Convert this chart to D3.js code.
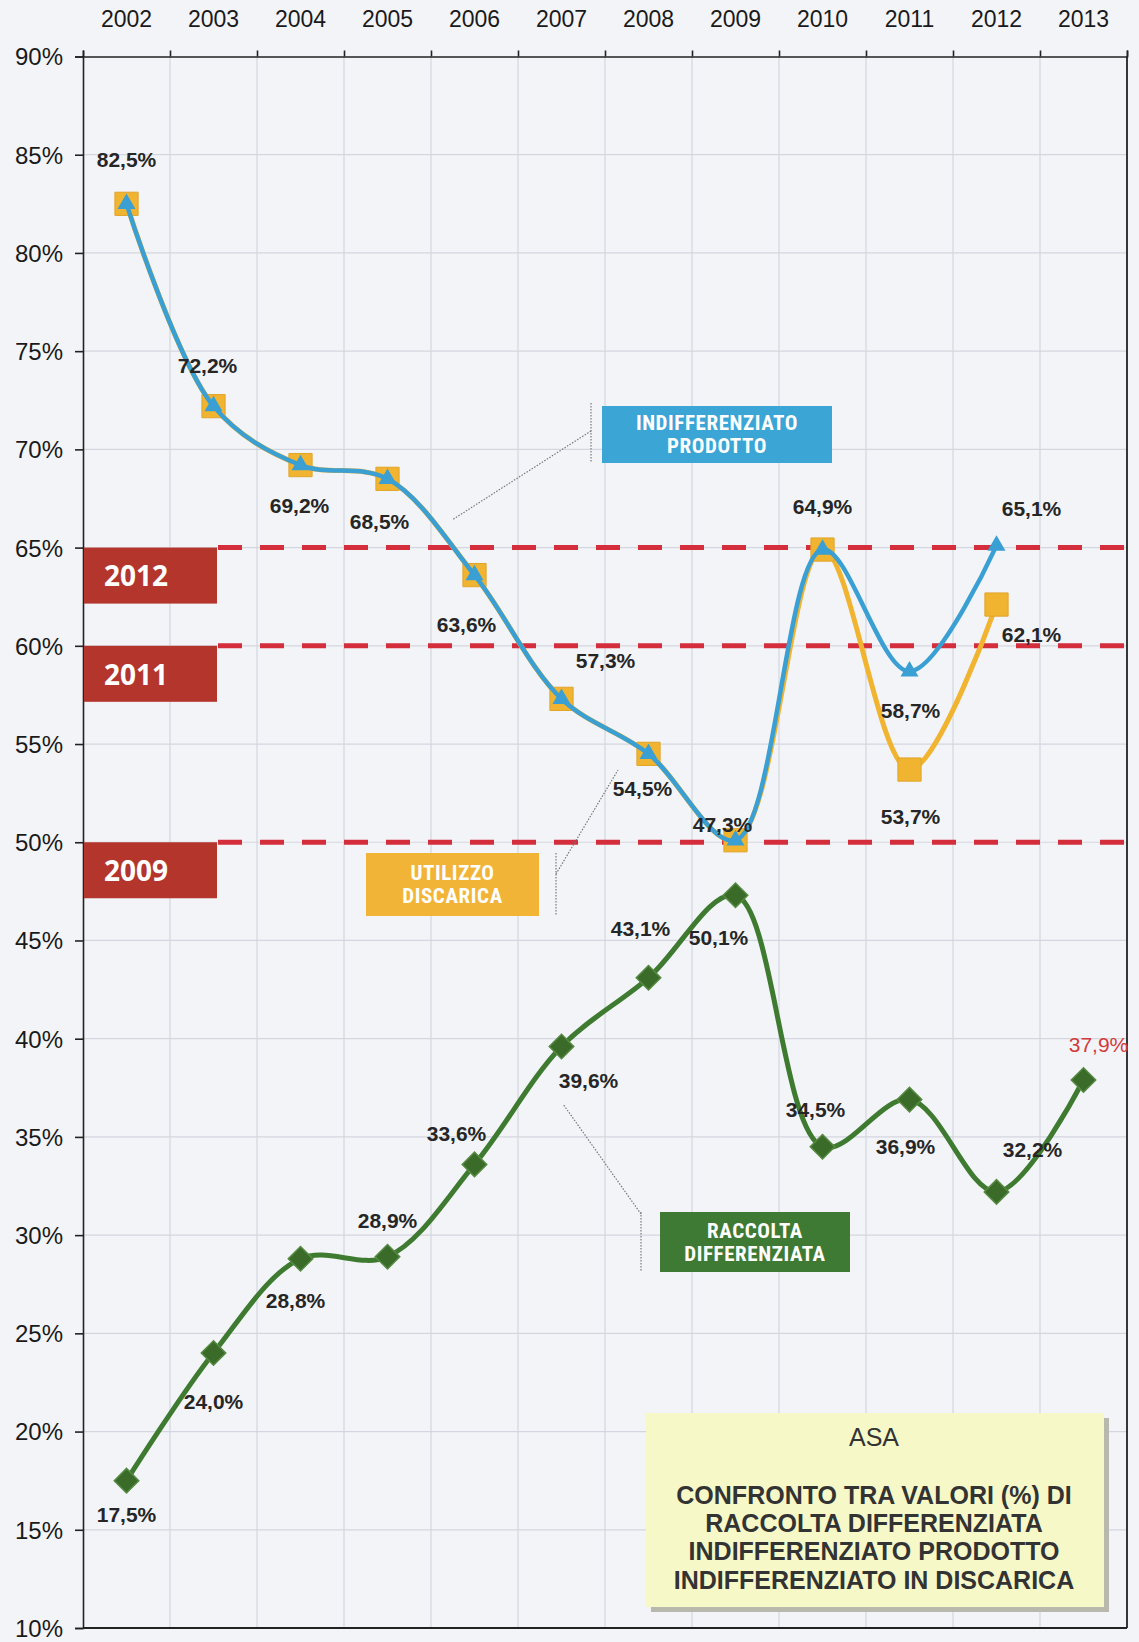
<!DOCTYPE html>
<html lang="it">
<head>
  <meta charset="UTF-8">
  <title>ASA - confronto raccolta differenziata</title>
  <script src="https://d3js.org/d3.v7.min.js"></script>
  <style>
    body { margin: 0; background: #f3f4f8; }
    text { font-family: "Liberation Sans", Arial, sans-serif; }
    .tick text { fill: #1a1a1a; }
    .lbl { font-size: 21px; font-weight: bold; fill: #262626; }
    .tag { font-family: "Roboto Condensed", "DejaVu Sans Condensed", sans-serif; font-weight: bold; font-size: 21px; letter-spacing: 0.6px; fill: #fff; }
    .year { font-family: "Open Sans", sans-serif; font-weight: bold; font-size: 28px; fill: #fff; }
  </style>
</head>
<body>
<svg id="chart" width="1139" height="1642"></svg>
<script>
// years on the top axis
const years = ["2002","2003","2004","2005","2006","2007","2008","2009","2010","2011","2012","2013"];

// raccolta differenziata (%)
const raccolta = [17.5, 24.0, 28.8, 28.9, 33.6, 39.6, 43.1, 47.3, 34.5, 36.9, 32.2, 37.9];
const raccoltaLbl = ["17,5%","24,0%","28,8%","28,9%","33,6%","39,6%","43,1%","50,1%","34,5%","36,9%","32,2%","37,9%"];

// indifferenziato prodotto (%)
const prodotto = [82.5, 72.2, 69.2, 68.5, 63.6, 57.3, 54.5, 50.1, 64.9, 58.7, 65.1];
const prodottoLbl = ["82,5%","72,2%","69,2%","68,5%","63,6%","57,3%","54,5%","47,3%","64,9%","58,7%","65,1%"];

// utilizzo discarica (%)
const discarica = [82.5, 72.2, 69.2, 68.5, 63.6, 57.3, 54.5, 50.1, 64.9, 53.7, 62.1];
const discaricaLbl = [null,null,null,null,null,null,null,null,null,"53,7%","62,1%"];

// reference years drawn as dashed lines
const refYears = ["2012","2011","2009"];
const refValues = [65, 60, 50];

const yTicks = d3.range(10, 91, 5);

// label offsets from their point (dx, dy)
const offRaccolta = [[0,34],[0,49],[-5,42],[0,-36],[-18,-31],[27,34],[-8,-49],[-17,42],[-7,-37],[-4,47],[36,-42],[15,-35]];
const offProdotto = [[0,-44],[-6,-41],[-1,41],[-8,43],[-8,50],[44,-38],[-6,35],[-13,-16],[0,-43],[1,39],[35,-37]];
const offDiscarica = [null,null,null,null,null,null,null,null,null,[1,47],[35,30]];

const svg = d3.select("#chart");
const mLeft = 83, mRight = 1127, mTop = 56.5, mBottom = 1628;

const x = d3.scaleBand().domain(years).range([mLeft, mRight]);
const xb = d3.scaleLinear().domain([0, years.length]).range([mLeft, mRight]);
const y = d3.scaleLinear().domain([10, 90]).range([mBottom, mTop]);
const cx = i => x(years[i]) + x.bandwidth() / 2;

// grid
svg.append("g").selectAll("line").data(d3.range(1, years.length)).join("line")
  .attr("x1", d => xb(d)).attr("x2", d => xb(d)).attr("y1", mTop).attr("y2", mBottom)
  .attr("stroke", "#d4d6df").attr("stroke-width", 1.2);
svg.append("g").selectAll("line").data(yTicks.slice(1, -1)).join("line")
  .attr("x1", mLeft).attr("x2", mRight).attr("y1", d => y(d)).attr("y2", d => y(d))
  .attr("stroke", "#d4d6df").attr("stroke-width", 1.2);

// axes
svg.append("g").attr("transform", `translate(0,${mTop})`)
  .call(d3.axisTop(xb).ticks(12).tickSize(6).tickFormat(""))
  .call(g => g.selectAll("path,line").attr("stroke", "#222").attr("stroke-width", 1.6));
svg.append("g").attr("transform", `translate(0,${mTop})`)
  .call(d3.axisTop(x).tickSize(0).tickPadding(30))
  .call(g => g.select(".domain").remove())
  .call(g => g.selectAll("text").attr("font-size", 23).attr("font-family", "Liberation Sans, Arial"));
svg.append("g").attr("transform", `translate(${mLeft},0)`)
  .call(d3.axisLeft(y).tickValues(yTicks).tickSize(8).tickPadding(12).tickFormat(d => d + "%"))
  .call(g => g.selectAll("path,line").attr("stroke", "#222").attr("stroke-width", 1.6))
  .call(g => g.selectAll("text").attr("font-size", 24).attr("dy", "0.35em").attr("font-family", "Liberation Sans, Arial"));
svg.append("line").attr("x1", mLeft).attr("x2", mRight).attr("y1", mBottom).attr("y2", mBottom)
  .attr("stroke", "#222").attr("stroke-width", 1.8);
svg.append("line").attr("x1", mRight).attr("x2", mRight).attr("y1", mTop).attr("y2", mBottom)
  .attr("stroke", "#222").attr("stroke-width", 1.8);

// reference dashed lines and year boxes
refValues.forEach((v, i) => {
  svg.append("line").attr("x1", 218).attr("x2", 1139).attr("y1", y(v)).attr("y2", y(v))
    .attr("stroke", "#d42e3c").attr("stroke-width", 5).attr("stroke-dasharray", "24,18");
  svg.append("rect").attr("x", mLeft + 1).attr("y", y(v)).attr("width", 133).attr("height", 56)
    .attr("fill", "#b3352b");
  svg.append("text").attr("class", "year").attr("x", mLeft + 53).attr("y", y(v) + 29)
    .attr("dy", "0.35em").attr("text-anchor", "middle").text(refYears[i]);
});

// leader lines
const leader = [
  [[591, 403], [591, 463]], [[591, 431], [452, 520]],
  [[556, 853], [556, 916]], [[556, 874], [618, 770]],
  [[641, 1212], [641, 1272]], [[641, 1214], [563, 1104]]
];
svg.append("g").selectAll("path").data(leader).join("path")
  .attr("d", d => d3.line()(d)).attr("fill", "none")
  .attr("stroke", "#777").attr("stroke-width", 1.2).attr("stroke-dasharray", "1.5,1.5");

// series
const curve = d3.curveCatmullRom.alpha(0.5);
const line = d3.line().x((d, i) => cx(i)).y(d => y(d)).curve(curve);

svg.append("path").datum(discarica).attr("d", line).attr("fill", "none")
  .attr("stroke", "#f1b430").attr("stroke-width", 5);
svg.append("g").selectAll("path").data(discarica).join("path")
  .attr("transform", (d, i) => `translate(${cx(i)},${y(d)})`)
  .attr("d", d3.symbol(d3.symbolSquare, 540)).attr("fill", "#f1b430").attr("stroke", "#e0a52a");

svg.append("path").datum(prodotto).attr("d", line).attr("fill", "none")
  .attr("stroke", "#3a9fd3").attr("stroke-width", 4.5);
svg.append("g").selectAll("path").data(prodotto).join("path")
  .attr("transform", (d, i) => `translate(${cx(i)},${y(d)})`)
  .attr("d", d3.symbol(d3.symbolTriangle, 140)).attr("fill", "#3a9fd3");

svg.append("path").datum(raccolta).attr("d", line).attr("fill", "none")
  .attr("stroke", "#3e7b30").attr("stroke-width", 5);
svg.append("g").selectAll("path").data(raccolta).join("path")
  .attr("transform", (d, i) => `translate(${cx(i)},${y(d)}) rotate(45)`)
  .attr("d", d3.symbol(d3.symbolSquare, 300)).attr("fill", "#3a6b29").attr("stroke", "#568a42").attr("stroke-width", 1.5);

// data labels
[[prodotto, prodottoLbl, offProdotto], [discarica, discaricaLbl, offDiscarica], [raccolta, raccoltaLbl, offRaccolta]]
  .forEach(([vals, txt, off]) => {
    const g = svg.append("g");
    vals.forEach((v, i) => {
      if (!txt[i]) return;
      const red = vals === raccolta && i === vals.length - 1;
      g.append("text").attr("class", "lbl").attr("text-anchor", "middle").attr("dy", "0.35em")
        .attr("x", cx(i) + off[i][0]).attr("y", y(v) + off[i][1])
        .style("fill", red ? "#d33a3a" : null)
        .style("font-weight", red ? "normal" : null)
        .text(txt[i]);
    });
  });

// series tags
const tags = [
  { x: 602, y: 406, w: 230, h: 57, fill: "#3ba5d6", lines: ["INDIFFERENZIATO", "PRODOTTO"] },
  { x: 366, y: 853, w: 173, h: 63, fill: "#f2b436", lines: ["UTILIZZO", "DISCARICA"] },
  { x: 660, y: 1212, w: 190, h: 60, fill: "#3f7a34", lines: ["RACCOLTA", "DIFFERENZIATA"] }
];
tags.forEach(t => {
  svg.append("rect").attr("x", t.x).attr("y", t.y).attr("width", t.w).attr("height", t.h).attr("fill", t.fill);
  t.lines.forEach((s, k) => {
    svg.append("text").attr("class", "tag").attr("text-anchor", "middle")
      .attr("x", t.x + t.w / 2).attr("y", t.y + t.h / 2 + (k - 0.5) * 23).attr("dy", "0.35em").text(s);
  });
});

// title box
svg.append("rect").attr("x", 651).attr("y", 1418).attr("width", 458).attr("height", 194).attr("fill", "#b8b8ad");
svg.append("rect").attr("x", 646).attr("y", 1413).attr("width", 458).attr("height", 194).attr("fill", "#f6f8c8");
const title = ["ASA", "", "CONFRONTO TRA VALORI (%) DI", "RACCOLTA DIFFERENZIATA", "INDIFFERENZIATO PRODOTTO", "INDIFFERENZIATO IN DISCARICA"];
const titleY = [1437, 0, 1495, 1523, 1551, 1580];
title.forEach((s, k) => {
  if (!s) return;
  svg.append("text").attr("x", 874).attr("y", titleY[k]).attr("dy", "0.35em")
    .attr("text-anchor", "middle").attr("font-size", 25).attr("font-weight", k ? "bold" : "normal")
    .attr("fill", "#333").text(s);
});
</script>
</body>
</html>
